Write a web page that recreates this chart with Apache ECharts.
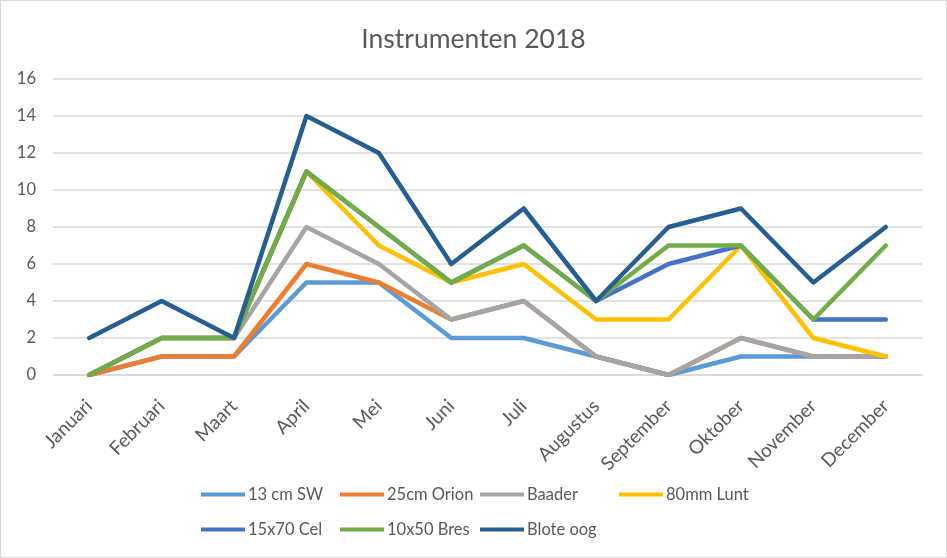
<!DOCTYPE html>
<html>
<head>
<meta charset="utf-8">
<script src="https://cdn.jsdelivr.net/npm/echarts@6/dist/echarts.min.js"></script>
<style>
html,body{margin:0;padding:0;background:#fff;}
#c{width:947px;height:558px;box-sizing:border-box;border:1px solid #d9d9d9;}
</style>
</head>
<body>
<div id="c"></div>
<script>
const months = ['Januari','Februari','Maart','April','Mei','Juni','Juli','Augustus','September','Oktober','November','December'];
const sw13 =     [0,1,1,5,5,2,2,1,0,1,1,1];
const orion25 =  [0,1,1,6,5,3,4,1,0,2,1,1];
const baader =   [0,2,2,8,6,3,4,1,0,2,1,1];
const lunt80 =   [0,2,2,11,7,5,6,3,3,7,2,1];
const cel15x70 = [0,2,2,11,8,5,7,4,6,7,3,3];
const bres10x50 =[0,2,2,11,8,5,7,4,7,7,3,7];
const bloteOog = [2,4,2,14,12,6,9,4,8,9,5,8];
const yTicks = [0,2,4,6,8,10,12,14,16];

const names = ['13 cm SW','25cm Orion','Baader','80mm Lunt','15x70 Cel','10x50 Bres','Blote oog'];
const colors = ['#5B9BD5','#ED7D31','#A5A5A5','#FFC000','#4472C4','#70AD47','#255E91'];
const datas = [sw13, orion25, baader, lunt80, cel15x70, bres10x50, bloteOog];

const FONT = 'Lato, "Noto Sans", sans-serif';
const chart = echarts.init(document.getElementById('c'));
const legendCols = [200, 339, 479, 618];
const legendRows = [485, 520];
const legends = names.map((n, i) => ({
  data:[n], left:legendCols[i % 4], top:legendRows[Math.floor(i / 4)],
  padding:0, itemWidth:44, itemHeight:4, itemGap:0, icon:'rect',
  textStyle:{color:'#595959', fontSize:16.5, fontFamily:FONT, padding:[0,0,0,-2]}
}));
chart.setOption({
  animation:false,
  title:{text:'Instrumenten 2018', left:'center', top:20,
    textStyle:{color:'#595959', fontSize:26.5, fontWeight:'normal', fontFamily:FONT}},
  legend:legends,
  grid:{left:52, right:24, top:78, bottom:182, containLabel:false},
  xAxis:{type:'category', data:months, boundaryGap:true,
    axisLine:{show:true, lineStyle:{color:'#d9d9d9', width:1.5}},
    axisTick:{show:false},
    axisLabel:{rotate:45, color:'#595959', fontSize:19, fontFamily:FONT, margin:28, interval:0}},
  yAxis:{type:'value', min:yTicks[0], max:yTicks[yTicks.length-1], interval:2,
    axisLine:{show:false}, axisTick:{show:false},
    splitLine:{lineStyle:{color:'#d9d9d9', width:1.5}},
    axisLabel:{color:'#595959', fontSize:16.5, fontFamily:FONT, margin:17}},
  series: names.map((n,i)=>({
    name:n, type:'line', data:datas[i], symbol:'none',
    lineStyle:{width:4.5, color:colors[i], cap:'round', join:'round'},
    itemStyle:{color:colors[i]}, z:2+i
  }))
});
</script>
</body>
</html>
